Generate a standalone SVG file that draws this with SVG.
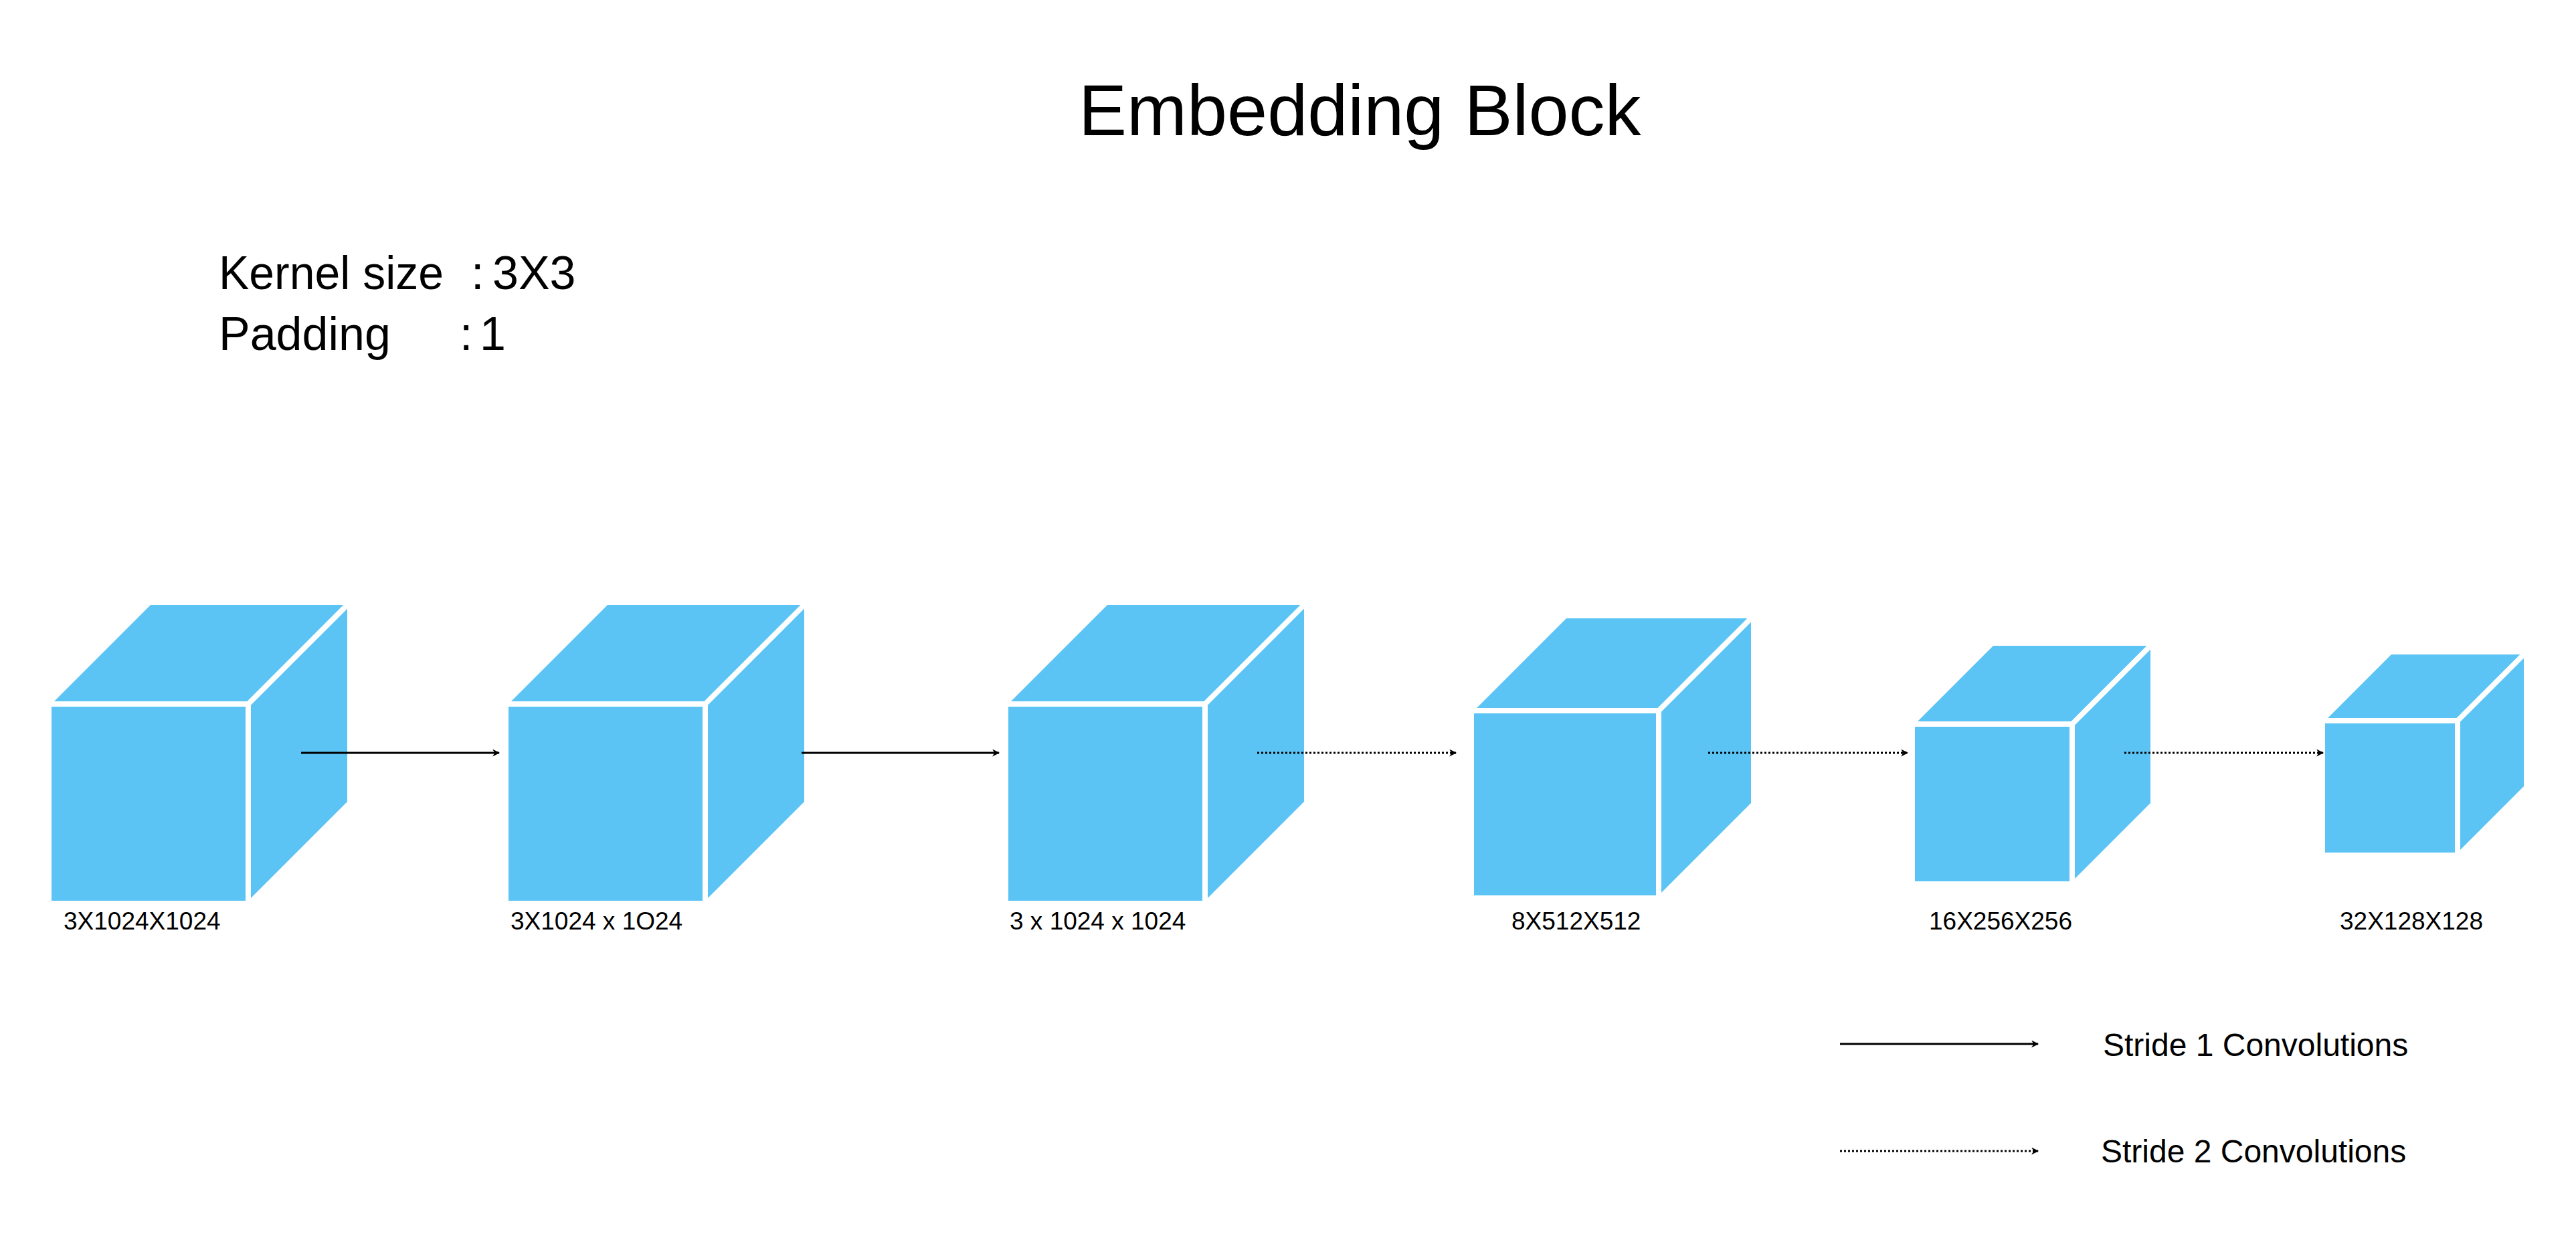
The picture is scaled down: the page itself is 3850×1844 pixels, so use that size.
<svg xmlns="http://www.w3.org/2000/svg" width="3850" height="1844" viewBox="0 0 3850 1844">
<style>
.face{fill:#5BC4F5;}
.gap{stroke:#FFFFFF;stroke-width:8;fill:none;stroke-linecap:butt;}
.lbl{font-family:"Liberation Sans",Arial,sans-serif;font-size:37px;fill:#000000;}
.txt{font-family:"Liberation Sans",Arial,sans-serif;fill:#000000;}
.solid{stroke:#000000;stroke-width:3;fill:none;marker-end:url(#ah);}
.dot{stroke:#000000;stroke-width:3;fill:none;stroke-dasharray:3 3;marker-end:url(#ah);}
</style>
<defs>
<marker id="ah" markerWidth="13" markerHeight="11" refX="9" refY="5" orient="auto" markerUnits="userSpaceOnUse" viewBox="0 0 10 10">
<path d="M0,0 L10,5 L0,10 L3,5 Z" fill="#000000"/>
</marker>
</defs>
<rect x="0" y="0" width="3850" height="1844" fill="#FFFFFF"/>
<text id="title" class="txt" x="1612" y="202" font-size="108">Embedding Block</text>
<g id="params" class="txt" font-size="70">
<text x="327" y="432" textLength="336" lengthAdjust="spacingAndGlyphs">Kernel size</text>
<text x="704" y="432">:</text>
<text x="736" y="432">3X3</text>
<text x="327" y="523">Padding</text>
<text x="687" y="523">:</text>
<text x="717" y="523">1</text>
</g>
<g id="cube1">
<polygon class="face" points="77,1052 371,1052 371,1346 77,1346"/>
<polygon class="face" points="77,1052 225,904 519,904 371,1052"/>
<polygon class="face" points="371,1052 519,904 519,1198 371,1346"/>
<polyline class="gap" points="73,1052 371,1052 371,1350"/>
<line class="gap" x1="371" y1="1052" x2="522" y2="901"/>
<text class="lbl" x="95" y="1389">3X1024X1024</text>
</g>
<g id="cube2">
<polygon class="face" points="760,1052 1054,1052 1054,1346 760,1346"/>
<polygon class="face" points="760,1052 908,904 1202,904 1054,1052"/>
<polygon class="face" points="1054,1052 1202,904 1202,1198 1054,1346"/>
<polyline class="gap" points="756,1052 1054,1052 1054,1350"/>
<line class="gap" x1="1054" y1="1052" x2="1205" y2="901"/>
<text class="lbl" x="763" y="1389">3X1024 x 1O24</text>
</g>
<g id="cube3">
<polygon class="face" points="1507,1052 1801,1052 1801,1346 1507,1346"/>
<polygon class="face" points="1507,1052 1655,904 1949,904 1801,1052"/>
<polygon class="face" points="1801,1052 1949,904 1949,1198 1801,1346"/>
<polyline class="gap" points="1503,1052 1801,1052 1801,1350"/>
<line class="gap" x1="1801" y1="1052" x2="1952" y2="901"/>
<text class="lbl" x="1509" y="1389">3 x 1024 x 1024</text>
</g>
<g id="cube4">
<polygon class="face" points="2203,1062 2479,1062 2479,1338 2203,1338"/>
<polygon class="face" points="2203,1062 2341,924 2617,924 2479,1062"/>
<polygon class="face" points="2479,1062 2617,924 2617,1200 2479,1338"/>
<polyline class="gap" points="2199,1062 2479,1062 2479,1342"/>
<line class="gap" x1="2479" y1="1062" x2="2620" y2="921"/>
<text class="lbl" x="2259" y="1389">8X512X512</text>
</g>
<g id="cube5">
<polygon class="face" points="2862,1082 3097,1082 3097,1317 2862,1317"/>
<polygon class="face" points="2862,1082 2979,965 3214,965 3097,1082"/>
<polygon class="face" points="3097,1082 3214,965 3214,1200 3097,1317"/>
<polyline class="gap" points="2858,1082 3097,1082 3097,1321"/>
<line class="gap" x1="3097" y1="1082" x2="3217" y2="962"/>
<text class="lbl" x="2883" y="1389">16X256X256</text>
</g>
<g id="cube6">
<polygon class="face" points="3475,1077 3673,1077 3673,1274 3475,1274"/>
<polygon class="face" points="3475,1077 3574,978 3772,978 3673,1077"/>
<polygon class="face" points="3673,1077 3772,978 3772,1175 3673,1274"/>
<polyline class="gap" points="3471,1077 3673,1077 3673,1278"/>
<line class="gap" x1="3673" y1="1077" x2="3775" y2="975"/>
<text class="lbl" x="3497" y="1389">32X128X128</text>
</g>
<g id="connectors">
<line class="solid" x1="450" y1="1125" x2="746" y2="1125"/>
<line class="solid" x1="1198" y1="1125" x2="1493" y2="1125"/>
<line class="dot" x1="1879" y1="1125" x2="2176" y2="1125"/>
<line class="dot" x1="2553" y1="1125" x2="2851" y2="1125"/>
<line class="dot" x1="3175" y1="1125" x2="3472" y2="1125"/>
</g>
<g id="legend">
<line class="solid" x1="2750" y1="1560" x2="3046" y2="1560"/>
<text class="txt" x="3143" y="1578" font-size="48">Stride 1 Convolutions</text>
<line class="dot" x1="2750" y1="1720" x2="3046" y2="1720"/>
<text class="txt" x="3140" y="1737" font-size="48">Stride 2 Convolutions</text>
</g>
</svg>
